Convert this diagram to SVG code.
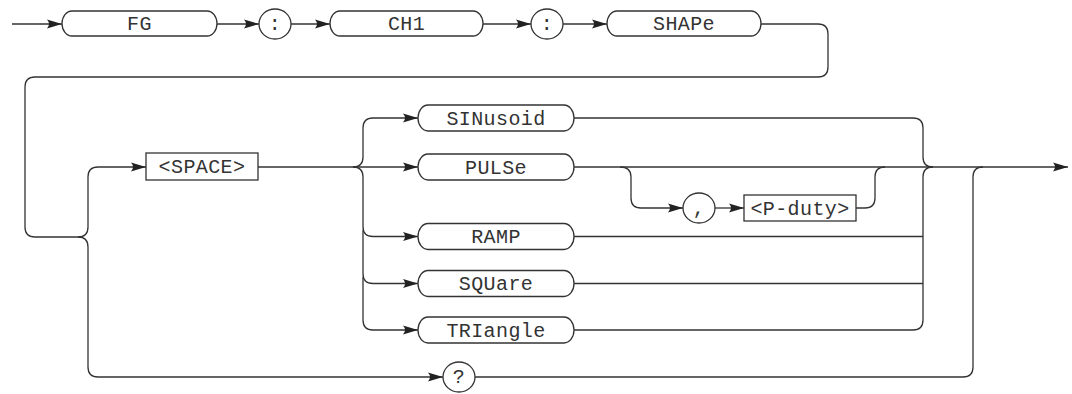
<svg xmlns="http://www.w3.org/2000/svg" width="1072" height="394" viewBox="0 0 1072 394">
<defs>
<marker id="ar" markerUnits="userSpaceOnUse" markerWidth="18" markerHeight="12" viewBox="-16 -6 18 12" refX="0" refY="0" orient="auto">
<path d="M0,0 L-15,-4.5 Q-11,0 -15,4.5 Z" fill="#222"/>
</marker>
</defs>
<style>
.ln{fill:none;stroke:#333;stroke-width:1.3}
.nd{fill:#fff;stroke:#333;stroke-width:1.3}
.tx{font-family:"Liberation Mono","DejaVu Sans Mono",monospace;font-size:20px;fill:#333;text-anchor:middle;letter-spacing:0.4px}
</style>
<rect width="1072" height="394" fill="#fff"/>
<g id="connectors" class="ln">
<path d="M12,24 L62,24" marker-end="url(#ar)"/>
<path d="M217,24 L259,24" marker-end="url(#ar)"/>
<path d="M291,24 L330,24" marker-end="url(#ar)"/>
<path d="M483,24 L531,24" marker-end="url(#ar)"/>
<path d="M563,24 L607,24" marker-end="url(#ar)"/>
<path d="M761,24 L818,24 Q828,24 828,34 L828,67 Q828,77 818,77 L35,77 Q25,77 25,87 L25,227 Q25,237 35,237 L78,237"/>
<path d="M78,237 Q88,237 88,227 L88,177 Q88,167 98,167 L146,167" marker-end="url(#ar)"/>
<path d="M78,237 Q88,237 88,247 L88,367 Q88,377 98,377 L443,377" marker-end="url(#ar)"/>
<path d="M258,167 L418,167" marker-end="url(#ar)"/>
<path d="M353,167 Q363,167 363,157 L363,128 Q363,118 373,118 L418,118" marker-end="url(#ar)"/>
<path d="M353,167 Q363,167 363,177 L363,226.5 Q363,236.5 373,236.5 L418,236.5" marker-end="url(#ar)"/>
<path d="M363,230 L363,273.5 Q363,283.5 373,283.5 L418,283.5" marker-end="url(#ar)"/>
<path d="M363,277 L363,320 Q363,330 373,330 L418,330" marker-end="url(#ar)"/>
<path d="M574,167 L1068,167" marker-end="url(#ar)"/>
<path d="M620,167 Q631,167 631,177 L631,198 Q631,208 641,208 L683,208" marker-end="url(#ar)"/>
<path d="M715,208 L744,208" marker-end="url(#ar)"/>
<path d="M856,208 L865,208 Q875,208 875,198 L875,177 Q875,167 885,167"/>
<path d="M574,118 L913,118 Q923,118 923,128 L923,157 Q923,167 933,167"/>
<path d="M933,167 Q923,167 923,177 L923,320 Q923,330 913,330 L574,330"/>
<path d="M574,236.5 L923,236.5"/>
<path d="M574,283.5 L923,283.5"/>
<path d="M475,377 L963,377 Q973,377 973,367 L973,177 Q973,167 983,167"/>
</g>
<g id="n-fg"><rect class="nd" x="62" y="11" width="155" height="25" rx="10" ry="12.5"/><text class="tx" x="139.5" y="30">FG</text></g>
<g id="n-colon1"><ellipse class="nd" cx="275" cy="24" rx="16" ry="15"/><text class="tx" x="275" y="30">:</text></g>
<g id="n-ch1"><rect class="nd" x="330" y="11" width="153" height="25" rx="10" ry="12.5"/><text class="tx" x="406.5" y="30">CH1</text></g>
<g id="n-colon2"><ellipse class="nd" cx="547" cy="24" rx="16" ry="15"/><text class="tx" x="547" y="30">:</text></g>
<g id="n-shape"><rect class="nd" x="607" y="11" width="154" height="25" rx="10" ry="12.5"/><text class="tx" x="684" y="30">SHAPe</text></g>
<g id="n-space"><rect class="nd" x="146" y="153" width="112" height="27"/><text class="tx" x="202" y="173">&lt;SPACE&gt;</text></g>
<g id="n-sin"><rect class="nd" x="418" y="105" width="156" height="26" rx="10" ry="13"/><text class="tx" x="496" y="124.5">SINusoid</text></g>
<g id="n-pulse"><rect class="nd" x="418" y="154" width="156" height="26" rx="10" ry="13"/><text class="tx" x="496" y="173.5">PULSe</text></g>
<g id="n-comma"><ellipse class="nd" cx="699" cy="208" rx="16" ry="15"/><text class="tx" x="699" y="214">,</text></g>
<g id="n-pduty"><rect class="nd" x="744" y="195" width="112" height="26"/><text class="tx" x="800" y="214.5">&lt;P-duty&gt;</text></g>
<g id="n-ramp"><rect class="nd" x="418" y="223.5" width="156" height="26" rx="10" ry="13"/><text class="tx" x="496" y="243">RAMP</text></g>
<g id="n-square"><rect class="nd" x="418" y="270.5" width="156" height="26" rx="10" ry="13"/><text class="tx" x="496" y="290">SQUare</text></g>
<g id="n-tri"><rect class="nd" x="418" y="317" width="156" height="26" rx="10" ry="13"/><text class="tx" x="496" y="336.5">TRIangle</text></g>
<g id="n-query"><ellipse class="nd" cx="459" cy="377" rx="16" ry="15"/><text class="tx" x="459" y="383">?</text></g>
</svg>
